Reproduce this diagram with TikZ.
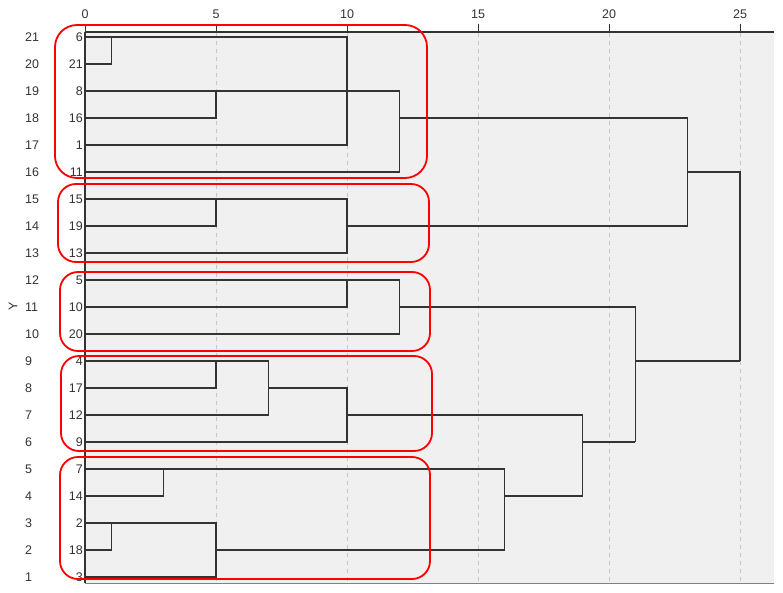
\documentclass[tikz,border=0pt]{standalone}
\usepackage{fontspec}
\setmainfont{Liberation Sans}
\definecolor{panelgray}{HTML}{F0F0F0}
\definecolor{gridgray}{HTML}{C8C8C8}
\definecolor{inkgray}{HTML}{333333}
\tikzset{
  link/.style={draw=inkgray, line width=1.3pt},
  groupbox/.style={draw=red, line width=1.8pt, rounded corners=18pt},
  leaf/.style={anchor=east, inner sep=0pt, xshift=-2pt},
  rowlab/.style={anchor=west, inner sep=0pt},
}
\begin{document}
\begin{tikzpicture}[x=1pt, y=-1pt, every node/.style={font=\fontsize{12.5}{14}\selectfont, text=inkgray}]
  \useasboundingbox (0,0) rectangle (783,593);

  % Panel
  \fill[panelgray] (85,32) rectangle (774,583);
  \draw[gray, line width=1pt] (85,583) -- (774,583);

  % Grid and scale
  \foreach \u in {5,10,...,25}
    \draw[gridgray, dashed, dash pattern=on 4pt off 4pt, line width=0.9pt] ({85+26.2*\u},33) -- ({85+26.2*\u},582);
  \foreach \u in {0,5,...,25} {
    \draw[inkgray, line width=0.9pt] ({85+26.2*\u},24) -- ({85+26.2*\u},32);
    \node (tick\u) at ({85+26.2*\u},14) {\u};
  }
  \draw[inkgray, line width=1.2pt] (85,32) -- (774,32);
  \draw[inkgray, line width=1.8pt] (85,32) -- (85,583);

  % Row numbers and axis title
  \foreach \r in {0,...,20}
    \node[rowlab] (row\r) at (25,{37+27*\r}) {\pgfmathparse{int(21-\r)}\pgfmathresult};
  \node[rotate=90] (ytitle) at (13,306) {Y};

  \begin{scope}[shift={(85pt,-37pt)}, x=26.2pt, y=-27pt]
    % Leaves
    \foreach \lab [count=\r from 0] in {6,21,8,16,1,11,15,19,13,5,10,20,4,17,12,9,7,14,2,18,3}
      \node[leaf] (leaf\lab) at (0,\r) {\lab};

    % Group 1
    \draw[link] (0,0) -- (10,0) -- (10,4) -- (0,4);
    \draw[link] (1,0) -- (1,1) -- (0,1);
    \draw[link] (0,2) -- (5,2) -- (5,3) -- (0,3);
    \draw[link] (5,2) -- (12,2) -- (12,5) -- (0,5);
    \draw[link] (12,3) -- (23,3);

    % Group 2
    \draw[link] (0,6) -- (5,6) -- (5,7) -- (0,7);
    \draw[link] (5,6) -- (10,6) -- (10,8) -- (0,8);
    \draw[link] (10,7) -- (23,7);
    \draw[link] (23,3) -- (23,7);
    \draw[link] (23,5) -- (25,5) -- (25,12);

    % Group 3
    \draw[link] (0,9) -- (10,9) -- (10,10) -- (0,10);
    \draw[link] (10,9) -- (12,9) -- (12,11) -- (0,11);
    \draw[link] (12,10) -- (21,10) -- (21,15);
    \draw[link] (21,12) -- (25,12);

    % Group 4
    \draw[link] (0,12) -- (5,12) -- (5,13) -- (0,13);
    \draw[link] (5,12) -- (7,12) -- (7,14) -- (0,14);
    \draw[link] (7,13) -- (10,13) -- (10,15) -- (0,15);
    \draw[link] (10,14) -- (19,14) -- (19,17);
    \draw[link] (19,15) -- (21,15);

    % Group 5
    \draw[link] (0,16) -- (3,16) -- (3,17) -- (0,17);
    \draw[link] (0,18) -- (1,18) -- (1,19) -- (0,19);
    \draw[link] (1,18) -- (5,18) -- (5,20) -- (0,20);
    \draw[link] (3,16) -- (16,16) -- (16,19) -- (5,19);
    \draw[link] (16,17) -- (19,17);
  \end{scope}

  % Red group frames
  \draw[groupbox, rounded corners=22pt] (55,25) rectangle (427,178);
  \draw[groupbox] (58,184) rectangle (429,262);
  \draw[groupbox] (60,272) rectangle (430,351);
  \draw[groupbox] (61,356) rectangle (432,451);
  \draw[groupbox] (60,457) rectangle (430,579);
\end{tikzpicture}
\end{document}
